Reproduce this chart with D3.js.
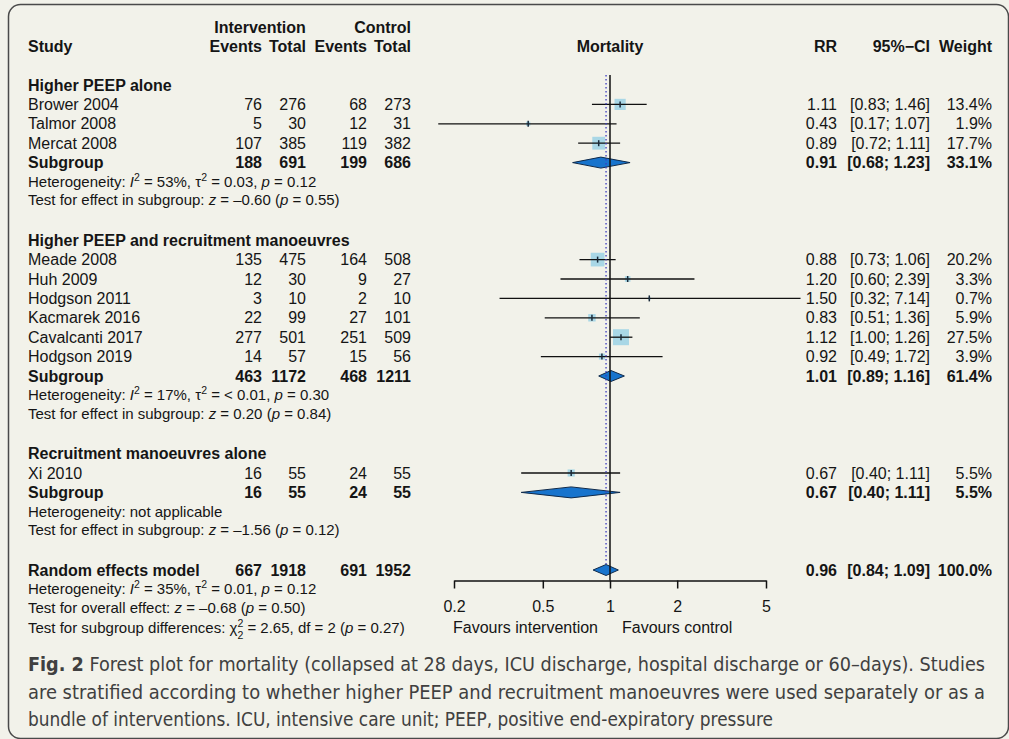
<!DOCTYPE html>
<html>
<head>
<meta charset="utf-8">
<title>Forest plot mortality</title>
<script src="https://cdn.jsdelivr.net/npm/d3@7"></script>
<style>
body { margin: 0; background: #f2f2ea; }
svg { display: block; }
text { font-family: "Liberation Sans", Arial, sans-serif; fill: #151515; }
.caption { font-family: "Liberation Sans Narrow", "DejaVu Sans Condensed", sans-serif; fill: #404040; }
</style>
</head>
<body>
<script>
// study level data
var groupNames = ["Higher PEEP alone", "Higher PEEP and recruitment manoeuvres", "Recruitment manoeuvres alone"];
var studies = ["Brower 2004", "Talmor 2008", "Mercat 2008", "Meade 2008", "Huh 2009", "Hodgson 2011",
               "Kacmarek 2016", "Cavalcanti 2017", "Hodgson 2019", "Xi 2010"];
var studyGroup = [0, 0, 0, 1, 1, 1, 1, 1, 1, 2];
var evInt = [76, 5, 107, 135, 12, 3, 22, 277, 14, 16];
var nInt  = [276, 30, 385, 475, 30, 10, 99, 501, 57, 55];
var evCtl = [68, 12, 119, 164, 9, 2, 27, 251, 15, 24];
var nCtl  = [273, 31, 382, 508, 27, 10, 101, 509, 56, 55];
var rr    = [1.11, 0.43, 0.89, 0.88, 1.20, 1.50, 0.83, 1.12, 0.92, 0.67];
var ciLo  = [0.83, 0.17, 0.72, 0.73, 0.60, 0.32, 0.51, 1.00, 0.49, 0.40];
var ciHi  = [1.46, 1.07, 1.11, 1.06, 2.39, 7.14, 1.36, 1.26, 1.72, 1.11];
var weight = [13.4, 1.9, 17.7, 20.2, 3.3, 0.7, 5.9, 27.5, 3.9, 5.5];

// subgroup summaries
var sgEvInt = [188, 463, 16], sgNInt = [691, 1172, 55];
var sgEvCtl = [199, 468, 24], sgNCtl = [686, 1211, 55];
var sgRR = [0.91, 1.01, 0.67], sgLo = [0.68, 0.89, 0.40], sgHi = [1.23, 1.16, 1.11];
var sgW = [33.1, 61.4, 5.5];
var sgI2 = ["53%", "17%", null], sgTau2 = ["0.03", "< 0.01", null], sgHetP = ["0.12", "0.30", null];
var sgZ = ["\u20130.60", "0.20", "\u20131.56"], sgP = ["0.55", "0.84", "0.12"];

// overall random effects
var allEvInt = 667, allNInt = 1918, allEvCtl = 691, allNCtl = 1952;
var allRR = 0.96, allLo = 0.84, allHi = 1.09, allW = 100.0;
var allI2 = "35%", allTau2 = "0.01", allHetP = "0.12", allZ = "\u20130.68", allP = "0.50";
var chiSq = "2.65", chiDf = "2", chiP = "0.27";

var axisTicks = [0.2, 0.5, 1, 2, 5];
var favLeft = "Favours intervention", favRight = "Favours control";
var captionLines = [
  [["Fig. 2", true], [" Forest plot for mortality (collapsed at 28 days, ICU discharge, hospital discharge or 60\u2013days). Studies", false]],
  [["are stratified according to whether higher PEEP and recruitment manoeuvres were used separately or as a", false]],
  [["bundle of interventions. ICU, intensive care unit; PEEP, positive end-expiratory pressure", false]]
];

var W = 1009, H = 739;
var svg = d3.select("body").append("svg").attr("width", W).attr("height", H);

svg.append("rect")
  .attr("x", 8.5).attr("y", 4.5).attr("width", 1000).attr("height", 734)
  .attr("rx", 12).attr("fill", "#f2f2ea").attr("stroke", "#4a4a4a").attr("stroke-width", 1.5);

var fs = 16, fsSmall = 15;
var col = {study: 28, evI: 262, nI: 306, evC: 367, nC: 411, rr: 837, ci: 930, w: 992};

var x = d3.scaleLog().domain([0.2, 5]).range([454, 766]);
var y = d3.scaleLinear().domain([0, 28]).range([85, 85 + 28 * 19.4]);
var box = d3.scaleSqrt().domain([0, 27.5]).range([0, 16]);

function txt(xp, yp, s, anchor, bold, size) {
  return svg.append("text")
    .attr("x", xp).attr("y", yp).attr("dy", "0.35em")
    .attr("text-anchor", anchor || "start")
    .attr("font-weight", bold ? "bold" : "normal")
    .attr("font-size", size || fs)
    .text(s);
}

// text with italic / super / sub parts
function rich(xp, yp, parts) {
  var t = svg.append("text").attr("x", xp).attr("y", yp).attr("dy", "0.35em").attr("font-size", fsSmall);
  parts.forEach(function(p) {
    var ts = t.append("tspan").text(p[0]);
    if (p[1] == "i") ts.attr("font-style", "italic");
    if (p[1] == "sup") ts.attr("font-size", 10.5).attr("baseline-shift", "super");
    if (p[1] == "sub") ts.attr("font-size", 10.5).attr("baseline-shift", "sub").attr("dx", -5.8);
  });
}

function hetParts(i2, tau2, p) {
  if (i2 == null) return [["Heterogeneity: not applicable"]];
  return [["Heterogeneity: "], ["I", "i"], ["2", "sup"], [" = " + i2 + ", "], ["\u03c4"], ["2", "sup"],
          [" = " + tau2 + ", "], ["p", "i"], [" = " + p]];
}

// header
txt(260, 27, "Intervention", "middle", true);
txt(col.nC, 27, "Control", "end", true);
txt(col.study, 46, "Study", "start", true);
txt(col.evI, 46, "Events", "end", true);
txt(col.nI, 46, "Total", "end", true);
txt(col.evC, 46, "Events", "end", true);
txt(col.nC, 46, "Total", "end", true);
txt(x(1), 46, "Mortality", "middle", true);
txt(col.rr, 46, "RR", "end", true);
txt(col.ci, 46, "95%\u2212CI", "end", true);
txt(col.w, 46, "Weight", "end", true);

var plot = svg.append("g");

function numbers(yp, a, b, c, d, r, lo, hi, w, bold) {
  txt(col.evI, yp, a, "end", bold);
  txt(col.nI, yp, b, "end", bold);
  txt(col.evC, yp, c, "end", bold);
  txt(col.nC, yp, d, "end", bold);
  txt(col.rr, yp, r.toFixed(2), "end", bold);
  txt(col.ci, yp, "[" + lo.toFixed(2) + "; " + hi.toFixed(2) + "]", "end", bold);
  txt(col.w, yp, w.toFixed(1) + "%", "end", bold);
}

function diamond(yp, r, lo, hi) {
  var pts = [[x(lo), yp], [x(r), yp - 5.5], [x(hi), yp], [x(r), yp + 5.5]];
  plot.append("path")
    .attr("d", "M" + pts.join("L") + "Z")
    .attr("fill", "#1874cd").attr("stroke", "#102a4a").attr("stroke-width", 1);
}

var row = 0;
var squares = [];
groupNames.forEach(function(g, gi) {
  txt(col.study, y(row), g, "start", true);
  row++;
  studies.forEach(function(s, i) {
    if (studyGroup[i] != gi) return;
    var yp = y(row);
    txt(col.study, yp, s);
    numbers(yp, evInt[i], nInt[i], evCtl[i], nCtl[i], rr[i], ciLo[i], ciHi[i], weight[i], false);
    squares.push({y: yp, i: i});
    row++;
  });
  var ys = y(row);
  txt(col.study, ys, "Subgroup", "start", true);
  numbers(ys, sgEvInt[gi], sgNInt[gi], sgEvCtl[gi], sgNCtl[gi], sgRR[gi], sgLo[gi], sgHi[gi], sgW[gi], true);
  diamond(ys, sgRR[gi], sgLo[gi], sgHi[gi]);
  row++;
  rich(col.study, y(row) - 0.5, hetParts(sgI2[gi], sgTau2[gi], sgHetP[gi]));
  row++;
  rich(col.study, y(row) - 1.5, [["Test for effect in subgroup: "], ["z", "i"], [" = " + sgZ[gi] + " ("], ["p", "i"], [" = " + sgP[gi] + ")"]]);
  row += 2;
});

// overall
var yo = y(row);
txt(col.study, yo, "Random effects model", "start", true);
numbers(yo, allEvInt, allNInt, allEvCtl, allNCtl, allRR, allLo, allHi, allW, true);
diamond(yo, allRR, allLo, allHi);
rich(col.study, y(row + 1) - 0.5, hetParts(allI2, allTau2, allHetP));
rich(col.study, y(row + 2) - 1.5, [["Test for overall effect: "], ["z", "i"], [" = " + allZ + " ("], ["p", "i"], [" = " + allP + ")"]]);
rich(col.study, y(row + 3) - 0.5, [["Test for subgroup differences: \u03c7"], ["2", "sup"], [chiDf, "sub"],
  [" = " + chiSq + ", df = " + chiDf + " ("], ["p", "i"], [" = " + chiP + ")"]]);

// boxes, then CI lines on top
plot.selectAll("rect.box").data(squares).enter().append("rect")
  .attr("class", "box")
  .attr("x", function(d) { return x(rr[d.i]) - box(weight[d.i]) / 2; })
  .attr("y", function(d) { return d.y - box(weight[d.i]) / 2; })
  .attr("width", function(d) { return box(weight[d.i]); })
  .attr("height", function(d) { return box(weight[d.i]); })
  .attr("fill", "#a9d7e6");

plot.selectAll("line.ci").data(squares).enter().append("line")
  .attr("x1", function(d) { return x(ciLo[d.i]); })
  .attr("x2", function(d) { return x(ciHi[d.i]); })
  .attr("y1", function(d) { return d.y; }).attr("y2", function(d) { return d.y; })
  .attr("stroke", "#111").attr("stroke-width", 1.3);

plot.selectAll("line.est").data(squares).enter().append("line")
  .attr("x1", function(d) { return x(rr[d.i]); })
  .attr("x2", function(d) { return x(rr[d.i]); })
  .attr("y1", function(d) { return d.y - 3; }).attr("y2", function(d) { return d.y + 3; })
  .attr("stroke", "#1a2a3a").attr("stroke-width", 1.5);

// reference lines
var axisY = y(row) + 10.5;
svg.append("line")
  .attr("x1", x(1)).attr("x2", x(1)).attr("y1", 75).attr("y2", axisY)
  .attr("stroke", "#111").attr("stroke-width", 1.5);
svg.append("line")
  .attr("x1", x(allRR)).attr("x2", x(allRR)).attr("y1", 75).attr("y2", yo - 6)
  .attr("stroke", "#3a3ac0").attr("stroke-width", 1.3).attr("stroke-dasharray", "1.5,2.5");

// axis
var ax = svg.append("g").attr("transform", "translate(0," + axisY + ")")
  .call(d3.axisBottom(x).tickValues(axisTicks).tickFormat(function(d) { return String(d); })
    .tickSize(8).tickSizeOuter(0).tickPadding(12));
ax.selectAll("path, line").attr("stroke", "#111").attr("stroke-width", 1.5);
ax.selectAll("text").attr("font-size", fs).attr("font-family", "Liberation Sans, Arial, sans-serif").attr("fill", "#151515");

txt(x(1) - 12, axisY + 47, favLeft, "end");
txt(x(1) + 12, axisY + 47, favRight, "start");

// caption
var capW = [957, 957, 745];
captionLines.forEach(function(line, li) {
  var t = svg.append("text").attr("class", "caption")
    .attr("x", 28).attr("y", 671 + li * 27.5)
    .attr("font-size", 19.5)
    .attr("textLength", capW[li]).attr("lengthAdjust", "spacingAndGlyphs");
  line.forEach(function(p) {
    t.append("tspan").attr("font-weight", p[1] ? "bold" : "normal").text(p[0]);
  });
});
</script>
</body>
</html>
